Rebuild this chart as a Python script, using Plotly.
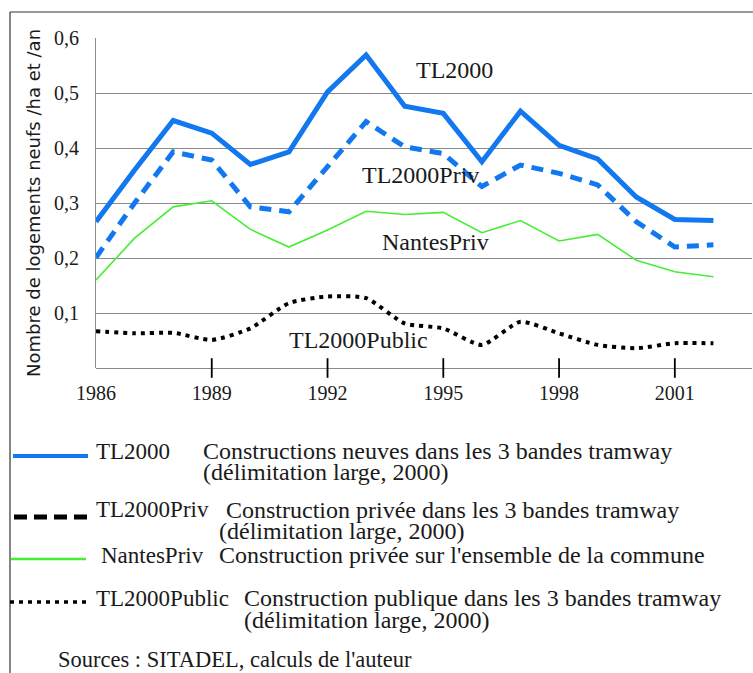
import plotly.graph_objects as go

years = list(range(1986, 2003))
tl2000 = [0.266, 0.36, 0.45, 0.427, 0.37, 0.393, 0.502, 0.569, 0.476, 0.463, 0.375, 0.467, 0.405, 0.38, 0.311, 0.27, 0.268]
tl2000_priv = [0.201, 0.30, 0.393, 0.378, 0.293, 0.284, 0.366, 0.448, 0.402, 0.39, 0.33, 0.369, 0.354, 0.333, 0.266, 0.22, 0.224]
nantes_priv = [0.16, 0.236, 0.293, 0.304, 0.252, 0.22, 0.251, 0.285, 0.279, 0.283, 0.246, 0.268, 0.231, 0.243, 0.196, 0.175, 0.166]
tl2000_public = [0.067, 0.063, 0.064, 0.051, 0.072, 0.118, 0.13, 0.127, 0.081, 0.072, 0.042, 0.084, 0.063, 0.042, 0.036, 0.045, 0.045]

x_ticks = [1986, 1989, 1992, 1995, 1998, 2001]
x_tick_marks = [1989, 1992, 1995, 1998, 2001]
y_ticks = [0.1, 0.2, 0.3, 0.4, 0.5, 0.6]
y_tick_labels = ["0,1", "0,2", "0,3", "0,4", "0,5", "0,6"]

series_labels = ["TL2000", "TL2000Priv", "NantesPriv", "TL2000Public"]
series_desc = [
    ["Constructions neuves dans les 3 bandes tramway", "(délimitation large, 2000)"],
    ["Construction privée dans les 3 bandes tramway", "(délimitation large, 2000)"],
    ["Construction privée sur l'ensemble de la commune"],
    ["Construction publique dans les 3 bandes tramway", "(délimitation large, 2000)"],
]
source_text = "Sources : SITADEL, calculs de l'auteur"

BLUE = "#1278f0"
GREEN = "#44ee33"
SERIF = "Liberation Serif, Times New Roman, serif"
TXT = "#1a1a1a"
W, H = 753, 673
L, R, T, B = 96, 752, 38, 368


def px(x):
    return (x - L) / (R - L)


def py(y):
    return (B - y) / (B - T)


fig = go.Figure()
fig.add_trace(go.Scatter(x=years, y=tl2000_public, mode="lines",
                         line=dict(color="black", width=4, dash="4px,5px", shape="spline", smoothing=0.6)))
fig.add_trace(go.Scatter(x=years, y=nantes_priv, mode="lines",
                         line=dict(color=GREEN, width=1.6)))
fig.add_trace(go.Scatter(x=years, y=tl2000_priv, mode="lines",
                         line=dict(color=BLUE, width=5, dash="12px,8px")))
fig.add_trace(go.Scatter(x=years, y=tl2000, mode="lines",
                         line=dict(color=BLUE, width=5)))
# tick marks crossing the x axis
fig.add_trace(go.Scatter(x=x_tick_marks, y=[0] * len(x_tick_marks), mode="markers",
                         marker=dict(symbol="line-ns-open", size=14, color="black",
                                     line=dict(color="black", width=1.8)),
                         cliponaxis=False))

# in-plot labels
lab_pos = [(1995.3, 0.542), (1994.4, 0.351), (1994.8, 0.229), (1992.8, 0.051)]
for (lx, ly), t in zip(lab_pos, series_labels):
    fig.add_annotation(x=lx, y=ly, text=t, showarrow=False,
                       font=dict(family=SERIF, size=24, color=TXT),
                       xanchor="center", yanchor="middle")

shapes = []
# outer frame
shapes.append(dict(type="line", xref="paper", yref="paper", x0=px(10), x1=px(753), y0=py(12), y1=py(12),
                   line=dict(color="#333", width=1.2)))
shapes.append(dict(type="line", xref="paper", yref="paper", x0=px(10), x1=px(10), y0=py(12), y1=py(673),
                   line=dict(color="#333", width=1.2)))

# legend sample lines
leg = [
    (13, 88, 456, dict(color=BLUE, width=4)),
    (14, 88, 517, dict(color="black", width=5, dash="13px,7px")),
    (11, 86, 559, dict(color=GREEN, width=2.6)),
    (10, 88, 602, dict(color="black", width=3.5, dash="4px,5px")),
]
for x0, x1, yy, ln in leg:
    shapes.append(dict(type="line", xref="paper", yref="paper", x0=px(x0), x1=px(x1), y0=py(yy), y1=py(yy), line=ln))

name_pos = [(95, 451), (95, 510), (100, 555), (95, 598)]
desc_pos = [[(202, 451), (202, 472)], [(225, 510), (218, 531)], [(218, 555)], [(243, 598), (243, 620)]]
for (nx, ny), name, dlines, dpos in zip(name_pos, series_labels, series_desc, desc_pos):
    fig.add_annotation(xref="paper", yref="paper", x=px(nx), y=py(ny), text=name, showarrow=False,
                       xanchor="left", yanchor="middle", borderpad=0,
                       font=dict(family=SERIF, size=23, color=TXT))
    for txt, (dx, dy) in zip(dlines, dpos):
        fig.add_annotation(xref="paper", yref="paper", x=px(dx), y=py(dy), text=txt, showarrow=False,
                           xanchor="left", yanchor="middle", borderpad=0,
                           font=dict(family=SERIF, size=24, color=TXT))
fig.add_annotation(xref="paper", yref="paper", x=px(57), y=py(659), text=source_text, showarrow=False,
                   xanchor="left", yanchor="middle", borderpad=0,
                   font=dict(family=SERIF, size=22.5, color=TXT))

fig.update_layout(
    width=W, height=H,
    margin=dict(l=L, r=W - R, t=T, b=H - B, pad=0),
    paper_bgcolor="white", plot_bgcolor="white",
    showlegend=False,
    shapes=shapes,
    xaxis=dict(range=[1986, 2003], tickvals=x_ticks, ticktext=[str(v) for v in x_ticks],
               showgrid=False, zeroline=False, showline=False, ticks="",
               tickfont=dict(family=SERIF, size=20, color=TXT), ticklabelstandoff=11),
    yaxis=dict(range=[0, 0.6], tickvals=y_ticks, ticktext=y_tick_labels,
               showgrid=True, gridcolor="#8a8a8a", gridwidth=1.2,
               zeroline=True, zerolinecolor="#8a8a8a", zerolinewidth=1.2,
               showline=True, linecolor="#8a8a8a", linewidth=1.2, ticks="",
               tickfont=dict(family=SERIF, size=20, color=TXT), ticklabelstandoff=12,
               title=dict(text="Nombre de logements neufs /ha et /an", standoff=8,
                          font=dict(family="DejaVu Sans, sans-serif", size=18, color=TXT))),
)

fig.write_html("out.html", config={"displayModeBar": False},
               post_script="document.body.style.margin='0';")
